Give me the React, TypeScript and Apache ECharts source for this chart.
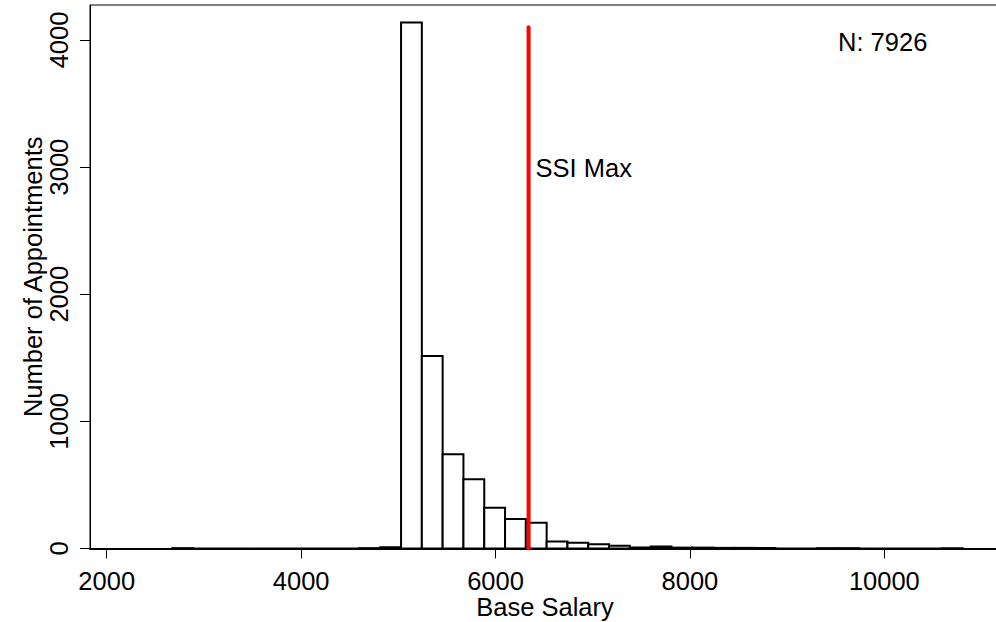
import React, { useEffect, useRef } from "react";
import * as echarts from "echarts";

// Histogram bins (equal width, starting at binStart)
const binStart = 2674;
const binWidth = 214;
const binCounts = [
  3, 0, 0, 0, 0, 0, 0, 0, 0, 3, 10,
  4138, 1515, 741, 544, 321, 232, 203, 55, 46, 33, 22, 8, 16, 7, 7, 5, 5, 4,
  0, 0, 3, 3, 0, 0, 0, 0, 2,
];
const xTicks = [2000, 4000, 6000, 8000, 10000];
const yTicks = [0, 1000, 2000, 3000, 4000];
const ssiMax = 6340;
const ssiLineTop = 4100;
const nLabel = "N: 7926";

const FONT = '"Liberation Sans", Arial, sans-serif';
const FS = 25.5;

export default function App() {
  const ref = useRef<HTMLDivElement>(null);
  useEffect(() => {
    if (!ref.current) return;
    const chart = echarts.init(ref.current, null, { renderer: "svg" });
    const histData = binCounts.map((c, i) => [
      binStart + i * binWidth,
      binStart + (i + 1) * binWidth,
      c,
    ]);
    const plain = (v: number) => String(v);
    chart.setOption({
      animation: false,
      backgroundColor: "#fff",
      textStyle: { fontFamily: FONT },
      grid: {
        left: 90,
        top: 5,
        width: 910,
        height: 543.5,
        show: true,
        borderColor: "#000",
        borderWidth: 1,
        backgroundColor: "#fff",
        containLabel: false,
        outerBoundsMode: "none",
      },
      xAxis: {
        type: "value",
        min: 1828,
        max: 11190,
        name: "Base Salary",
        nameLocation: "middle",
        nameGap: 45,
        nameMoveOverlap: false,
        nameTextStyle: { fontSize: FS, color: "#000", fontFamily: FONT },
        splitLine: { show: false },
        axisLine: { show: true, onZero: false, lineStyle: { color: "#000", width: 2 } },
        axisTick: {
          show: true,
          length: 10,
          customValues: xTicks,
          lineStyle: { color: "#000", width: 1 },
        },
        axisLabel: {
          customValues: xTicks,
          formatter: plain,
          fontSize: FS,
          color: "#000",
          margin: 19,
          fontFamily: FONT,
        },
      },
      yAxis: {
        type: "value",
        min: 0,
        max: 4275,
        name: "Number of Appointments",
        nameLocation: "middle",
        nameRotate: 90,
        nameGap: 44,
        nameMoveOverlap: false,
        nameTextStyle: { fontSize: FS, color: "#000", fontFamily: FONT },
        splitLine: { show: false },
        axisLine: { show: true, lineStyle: { color: "#000", width: 1 } },
        axisTick: {
          show: true,
          length: 10,
          customValues: yTicks,
          lineStyle: { color: "#000", width: 1 },
        },
        axisLabel: {
          customValues: yTicks,
          formatter: plain,
          rotate: 90,
          fontSize: FS,
          color: "#000",
          margin: 18,
          fontFamily: FONT,
        },
      },
      series: [
        {
          type: "custom",
          name: "hist",
          data: histData,
          encode: { x: [0, 1], y: 2 },
          z: 2,
          renderItem: (params: any, api: any) => {
            const x0 = api.value(0);
            const x1 = api.value(1);
            const c = api.value(2);
            const p0 = api.coord([x0, c]);
            const p1 = api.coord([x1, 0]);
            return {
              type: "rect",
              shape: {
                x: p0[0],
                y: p0[1],
                width: p1[0] - p0[0],
                height: p1[1] - p0[1],
              },
              style: { fill: "#fff", stroke: "#000", lineWidth: 2 },
            };
          },
        },
        {
          type: "line",
          name: "SSI Max",
          data: [
            [ssiMax, 0],
            [ssiMax, ssiLineTop],
          ],
          symbol: "none",
          z: 5,
          lineStyle: { color: "#ff0000", width: 4, cap: "round" },
          markPoint: {
            symbol: "rect",
            symbolSize: 0,
            data: [{ coord: [ssiMax, 2990] }],
            label: {
              show: true,
              formatter: "SSI Max",
              position: "right",
              distance: 7,
              fontSize: FS,
              color: "#000",
              fontFamily: FONT,
            },
          },
        },
      ],
      graphic: [
        {
          type: "text",
          left: 838,
          top: 29,
          style: { text: nLabel, fontSize: FS, fill: "#000", fontFamily: FONT },
        },
      ],
    });
    return () => chart.dispose();
  }, []);
  return (
    <div
      ref={ref}
      style={{ position: "absolute", left: 0, top: 0, width: 996, height: 622 }}
    />
  );
}
